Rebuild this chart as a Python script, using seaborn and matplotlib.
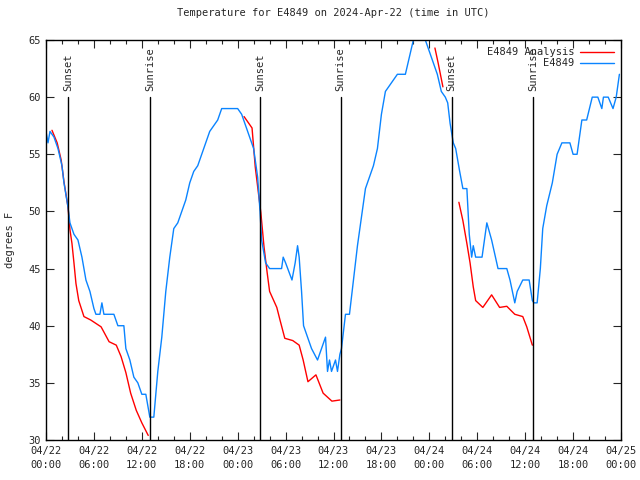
import pandas as pd
import matplotlib
matplotlib.use("Agg")
import matplotlib.pyplot as plt
import matplotlib.dates as mdates
from matplotlib.lines import Line2D
import seaborn as sns

# observed station temps (hours since 2024-04-22 00:00 UTC, deg F)
obs_hours = [0, 0.25, 0.5, 1.0, 1.5, 2.0, 2.25, 2.75, 3.0, 3.5, 4.0, 4.5, 5.0, 5.5, 6.0,
             6.25, 6.75, 7.0, 7.25, 8.0, 8.5, 9.0, 9.75, 10.0, 10.5, 11.0, 11.5, 12.0,
             12.5, 12.75, 13.0, 13.5, 14.0, 14.5, 15.0, 15.5, 16.0, 16.5, 17.0, 17.5,
             18.0, 18.5, 19.0, 19.5, 20.0, 20.5, 21.0, 21.5, 22.0, 23.0, 24.0, 24.5,
             25.0, 25.5, 26.0, 26.5, 26.8, 27.0, 27.5, 28.0, 29.0, 29.5, 29.7, 30.0,
             30.8, 31.2, 31.5, 31.7, 32.0, 32.25, 32.75, 33.25, 34.0, 34.5, 35.0, 35.25,
             35.5, 35.75, 36.25, 36.5, 36.8, 37.0, 37.5, 38.0, 38.5, 39.0, 39.5, 40.0,
             40.5, 41.0, 41.5, 42.0, 42.5, 43.0, 43.5, 44.0, 45.0, 45.5, 46.0, 46.5,
             47.0, 47.5, 48.0, 48.5, 49.0, 49.5, 50.0, 50.3, 50.6, 51.0, 51.3, 51.8,
             52.2, 52.7, 53.0, 53.3, 53.5, 53.8, 54.6, 55.2, 55.8, 56.6, 57.7, 58.1,
             58.7, 59.0, 59.7, 60.5, 60.9, 61.1, 61.5, 61.9, 62.2, 62.7, 63.4, 64.0,
             64.6, 65.6, 66.0, 66.5, 67.1, 67.7, 68.4, 69.1, 69.6, 69.8, 70.4, 71.0,
             71.4, 71.8]
obs_temps = [57, 56, 57, 56.5, 55.5, 54, 52.5, 50.4, 49, 48, 47.5, 46, 44, 43, 41.5,
             41, 41, 42, 41, 41, 41, 40, 40, 38, 37, 35.5, 35, 34,
             34, 33, 32, 32, 36, 39, 43, 46, 48.5, 49, 50, 51,
             52.5, 53.5, 54, 55, 56, 57, 57.5, 58, 59, 59, 59, 58.5,
             57.5, 56.5, 55.5, 53, 50, 47.5, 45.5, 45, 45, 45, 46, 45.5,
             44, 45.5, 47, 46, 43, 40, 39, 38, 37, 38, 39, 36,
             37, 36, 37, 36, 37.5, 38, 41, 41, 44, 47, 49.5, 52,
             53, 54, 55.5, 58.5, 60.5, 61, 61.5, 62, 62, 63.5, 65, 66,
             66, 65, 64, 63, 62, 60.5, 60, 59.5, 57.7, 56, 55.5, 53.5,
             52, 52, 48, 46, 47, 46, 46, 49, 47.5, 45, 45, 44,
             42, 43, 44, 44, 42.2, 42, 42, 45, 48.5, 50.5, 52.5, 55,
             56, 56, 55, 55, 58, 58, 60, 60, 59, 60, 60, 59,
             60, 62]

# analysis temps, four pieces with gaps between them
ana_hours = [0.75, 1.4, 1.9, 2.25, 2.75, 3.0, 3.25, 3.5, 3.75, 4.1, 4.75, 5.6, 6.9, 7.9,
             8.8, 9.4, 10.0, 10.6, 11.3, 12.0, 12.8,
             24.8, 25.8, 26.2, 26.6, 26.9, 27.3, 27.7, 28.0, 28.9, 29.3, 29.9, 30.9,
             31.7, 32.2, 32.8, 33.8, 34.7, 35.8, 36.8,
             48.7, 49.1, 49.7,
             51.7, 52.2, 52.7, 53.1, 53.5, 53.8, 54.7, 55.8, 56.8, 57.7, 58.7, 59.7,
             60.2, 60.9]
ana_temps = [57.1, 56, 54.5, 52.6, 50.4, 48.4, 47.2, 45.5, 43.7, 42.2, 40.8, 40.5, 39.9, 38.6,
             38.3, 37.3, 35.9, 34.1, 32.6, 31.5, 30.4,
             58.3, 57.3, 53.9, 51.6, 49.9, 46.9, 44.6, 43, 41.6, 40.5, 38.9, 38.7,
             38.3, 37, 35.1, 35.7, 34.1, 33.4, 33.5,
             64.3, 63, 60.9,
             50.8, 49.2, 47.2, 45.5, 43.4, 42.2, 41.6, 42.7, 41.6, 41.7, 41, 40.8,
             39.9, 38.3]
ana_piece = [1] * 21 + [2] * 19 + [3] * 3 + [4] * 14

sun_hours = [2.75, 13.0, 26.8, 36.9, 50.8, 61.0]
sun_labels = ["Sunset", "Sunrise", "Sunset", "Sunrise", "Sunset", "Sunrise"]

start = pd.Timestamp("2024-04-22 00:00")
obs = pd.DataFrame({"time": start + pd.to_timedelta(obs_hours, unit="h"), "temp": obs_temps})
ana = pd.DataFrame({"time": start + pd.to_timedelta(ana_hours, unit="h"),
                    "temp": ana_temps, "piece": ana_piece})

sns.set_style("ticks")
plt.rcParams["font.family"] = ["DejaVu Sans Mono"]
plt.rcParams["font.size"] = 7.5

fig = plt.figure(figsize=(6.4, 4.8), dpi=100)
ax = fig.add_axes([46 / 640, 40 / 480, 575 / 640, 400 / 480])

red = "#ff0000"
blue = "#0a84ff"

sns.lineplot(data=ana, x="time", y="temp", units="piece", estimator=None,
             color=red, linewidth=1, ax=ax)
sns.lineplot(data=obs, x="time", y="temp", color=blue, linewidth=1, ax=ax)

for h, lab in zip(sun_hours, sun_labels):
    t = start + pd.Timedelta(hours=h)
    ax.plot([t, t], [30, 60], color="black", linewidth=1)
    ax.text(t, 60.5, lab, rotation=90, ha="center", va="bottom", fontsize=7.5)

ax.set_xlim(start, start + pd.Timedelta(hours=72))
ax.set_ylim(30, 65)
ax.set_yticks(range(30, 66, 5))
ax.xaxis.set_major_locator(mdates.HourLocator(byhour=[0, 6, 12, 18]))
ax.xaxis.set_minor_locator(mdates.HourLocator(byhour=[2, 4, 8, 10, 14, 16, 20, 22]))
ax.xaxis.set_major_formatter(mdates.DateFormatter("%m/%d\n%H:%M"))
for lbl in ax.get_xticklabels():
    lbl.set_linespacing(1.6)
ax.tick_params(which="both", direction="in", top=True, right=True, width=0.8)
ax.tick_params(which="major", length=6)
ax.tick_params(which="minor", length=3)
ax.tick_params(axis="x", which="major", pad=4)
for s in ax.spines.values():
    s.set_linewidth(1)
    s.set_color("black")

ax.set_xlabel("")
ax.set_ylabel("degrees F", labelpad=10)
ax.set_title("Temperature for E4849 on 2024-Apr-22 (time in UTC)", pad=17, fontsize=7.5)

handles = [Line2D([], [], color=red, linewidth=1), Line2D([], [], color=blue, linewidth=1)]
ax.legend(handles, ["E4849 Analysis", "E4849"], loc="upper right", frameon=False,
          markerfirst=False, handlelength=3.2, borderaxespad=0.3, labelspacing=0.1,
          handletextpad=0.6)

fig.savefig("out.png", dpi=100)
